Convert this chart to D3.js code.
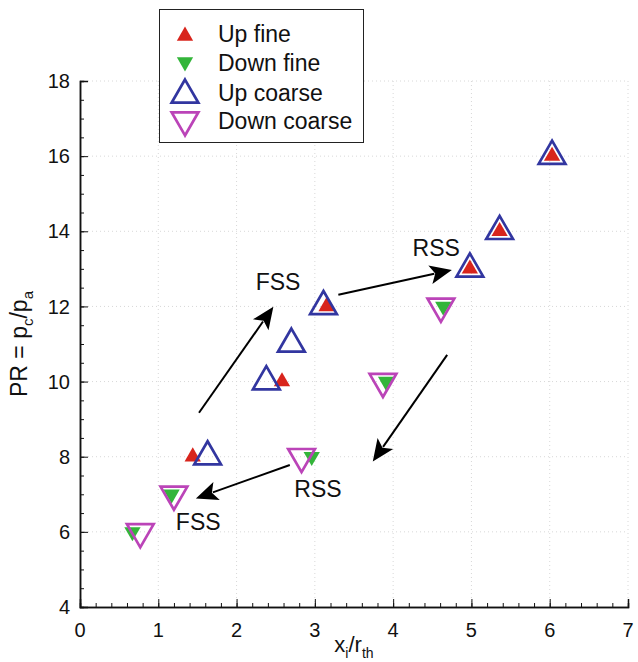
<!DOCTYPE html>
<html>
<head>
<meta charset="utf-8">
<script src="https://cdn.jsdelivr.net/npm/d3@7"></script>
<style>
  body { margin: 0; background: #fff; }
  svg text { font-family: "Liberation Sans", Arial, sans-serif; fill: #111; }
</style>
</head>
<body>
<div id="my_dataviz"></div>
<script>
// ---------------------------  DATA  ---------------------------
const upFine      = [[1.44, 8], [2.58, 10], [3.15, 12], [4.98, 13], [5.36, 14], [6.03, 16]];
const downFine    = [[0.67, 6], [1.17, 7], [2.96, 8], [3.91, 10], [4.64, 12]];
const upCoarse    = [[1.63, 8], [2.38, 10], [2.70, 11], [3.11, 12], [4.98, 13], [5.36, 14], [6.03, 16]];
const downCoarse  = [[0.77, 6], [1.20, 7], [2.83, 8], [3.87, 10], [4.61, 12]];

const xTicks = [0, 1, 2, 3, 4, 5, 6, 7];
const yTicks = [4, 6, 8, 10, 12, 14, 16, 18];

// arrows: [x0, y0, x1, y1] in data units (tail -> tip)
const arrows = [
    [1.52, 9.17, 2.47, 11.99],
    [3.30, 12.31, 4.75, 12.97],
    [4.69, 10.71, 3.74, 7.87],
    [2.68, 7.78, 1.48, 6.89]
];
const annotations = [
    { text: "FSS", x: 2.53, y: 12.66 },
    { text: "RSS", x: 4.55, y: 13.57 },
    { text: "RSS", x: 3.04, y: 7.14 },
    { text: "FSS", x: 1.51, y: 6.27 }
];

const legendItems = ["Up fine", "Down fine", "Up coarse", "Down coarse"];

// ---------------------------  LAYOUT  ---------------------------
const outer_width = 638, outer_height = 662;
const margins = { left: 80, right: 10, top: 81, bottom: 55 };
const width = outer_width - margins.left - margins.right,
      height = outer_height - margins.top - margins.bottom;

const svg = d3.select("#my_dataviz")
    .append("svg")
        .attr("width", outer_width)
        .attr("height", outer_height)
    .append("g")
        .attr("transform", `translate(${margins.left},${margins.top})`);

const x = d3.scaleLinear().domain([0, 7]).range([0, width]);
const y = d3.scaleLinear().domain([4, 18]).range([height, 0]);

// dotted grid
svg.append("g").selectAll("line")
    .data(xTicks.slice(1))
    .join("line")
        .attr("x1", d => x(d)).attr("x2", d => x(d))
        .attr("y1", 0).attr("y2", height)
        .attr("stroke", "#d8d8d8").attr("stroke-dasharray", "1,3");
svg.append("g").selectAll("line")
    .data(yTicks.slice(1))
    .join("line")
        .attr("x1", 0).attr("x2", width)
        .attr("y1", d => y(d)).attr("y2", d => y(d))
        .attr("stroke", "#d8d8d8").attr("stroke-dasharray", "1,3");

// X axis (ticks pointing inward)
const xAxis = svg.append("g").attr("transform", `translate(0,${height})`);
xAxis.call(d3.axisTop(x).tickValues(d3.range(0, 7.001, 0.2)).tickSize(4).tickFormat(""));
xAxis.call(g => g.append("g").call(d3.axisTop(x).tickValues(xTicks).tickSize(8).tickFormat("")));
xAxis.selectAll(".domain").attr("stroke", "#111").attr("stroke-width", 1.5);
xAxis.selectAll(".tick line").attr("stroke", "#111");
xAxis.selectAll("text.lbl")
    .data(xTicks)
    .join("text")
        .attr("class", "lbl")
        .attr("x", d => x(d))
        .attr("y", 30)
        .attr("text-anchor", "middle")
        .style("font-size", "20px")
        .text(d => d);

// Y axis
const yAxis = svg.append("g");
yAxis.call(d3.axisRight(y).tickValues(d3.range(4, 18.001, 0.5)).tickSize(4).tickFormat(""));
yAxis.call(g => g.append("g").call(d3.axisRight(y).tickValues(yTicks).tickSize(8).tickFormat("")));
yAxis.selectAll(".domain").attr("stroke", "#111").attr("stroke-width", 1.5);
yAxis.selectAll(".tick line").attr("stroke", "#111");
yAxis.selectAll("text.lbl")
    .data(yTicks)
    .join("text")
        .attr("class", "lbl")
        .attr("x", -10)
        .attr("y", d => y(d))
        .attr("dy", "0.36em")
        .attr("text-anchor", "end")
        .style("font-size", "20px")
        .text(d => d);

// axis titles
const xt = svg.append("text")
    .attr("x", width / 2)
    .attr("y", height + 45)
    .attr("text-anchor", "middle")
    .style("font-size", "22px");
xt.append("tspan").text("x");
xt.append("tspan").attr("dy", 6).style("font-size", "14px").text("i");
xt.append("tspan").attr("dy", -6).text("/r");
xt.append("tspan").attr("dy", 6).style("font-size", "14px").text("th");

const yt = svg.append("text")
    .attr("transform", `translate(${-53},${height / 2}) rotate(-90)`)
    .attr("text-anchor", "middle")
    .style("font-size", "23px");
yt.append("tspan").text("PR = p");
yt.append("tspan").attr("dy", 6).style("font-size", "15px").text("c");
yt.append("tspan").attr("dy", -6).text("/p");
yt.append("tspan").attr("dy", 6).style("font-size", "15px").text("a");

// markers
const bigTri = d3.symbol().type(d3.symbolTriangle).size(310)();
const smallTri = d3.symbol().type(d3.symbolTriangle).size(115)();

const series = [
    { data: upFine,     path: smallTri, rot: 0,   fill: "#d8241c", stroke: "none",    sw: 0 },
    { data: downFine,   path: smallTri, rot: 180, fill: "#33b53a", stroke: "none",    sw: 0 },
    { data: upCoarse,   path: bigTri,   rot: 0,   fill: "none",    stroke: "#3236a0", sw: 2.7 },
    { data: downCoarse, path: bigTri,   rot: 180, fill: "none",    stroke: "#bb44b8", sw: 2.7 }
];

series.forEach(s => {
    svg.append("g").selectAll("path")
        .data(s.data)
        .join("path")
            .attr("d", s.path)
            .attr("transform", d => `translate(${x(d[0])},${y(d[1])}) rotate(${s.rot})`)
            .attr("fill", s.fill)
            .attr("stroke", s.stroke)
            .attr("stroke-width", s.sw);
});

// arrows with filled heads
const headLen = 22, headHalf = 9.5;
const ag = svg.append("g");
arrows.forEach(a => {
    const x0 = x(a[0]), y0 = y(a[1]), x1 = x(a[2]), y1 = y(a[3]);
    const dx = x1 - x0, dy = y1 - y0, L = Math.hypot(dx, dy);
    const ux = dx / L, uy = dy / L;
    const bx = x1 - ux * headLen, by = y1 - uy * headLen;
    ag.append("line")
        .attr("x1", x0).attr("y1", y0)
        .attr("x2", bx + ux * 4).attr("y2", by + uy * 4)
        .attr("stroke", "#000").attr("stroke-width", 2);
    ag.append("path")
        .attr("d", `M${x1},${y1}L${bx - uy * headHalf},${by + ux * headHalf}L${bx + ux * 5},${by + uy * 5}L${bx + uy * headHalf},${by - ux * headHalf}Z`)
        .attr("fill", "#000");
});

svg.append("g").selectAll("text")
    .data(annotations)
    .join("text")
        .attr("x", d => x(d.x))
        .attr("y", d => y(d.y))
        .attr("dy", "0.36em")
        .attr("text-anchor", "middle")
        .style("font-size", "23px")
        .text(d => d.text);

// legend
const lg = d3.select("#my_dataviz svg").append("g");
lg.append("rect")
    .attr("x", 159.5).attr("y", 9.5)
    .attr("width", 204).attr("height", 133)
    .attr("fill", "#fff").attr("stroke", "#222").attr("stroke-width", 1);
lg.selectAll("path")
    .data(series)
    .join("path")
        .attr("d", d => d.path)
        .attr("transform", (d, i) => `translate(185,${[36, 62, 95, 120][i]}) rotate(${d.rot})`)
        .attr("fill", d => d.fill)
        .attr("stroke", d => d.stroke)
        .attr("stroke-width", d => d.sw);
lg.selectAll("text")
    .data(legendItems)
    .join("text")
        .attr("x", 218)
        .attr("y", (d, i) => [34, 63, 93, 121][i])
        .attr("dy", "0.36em")
        .style("font-size", "23px")
        .text(d => d);
</script>
</body>
</html>
